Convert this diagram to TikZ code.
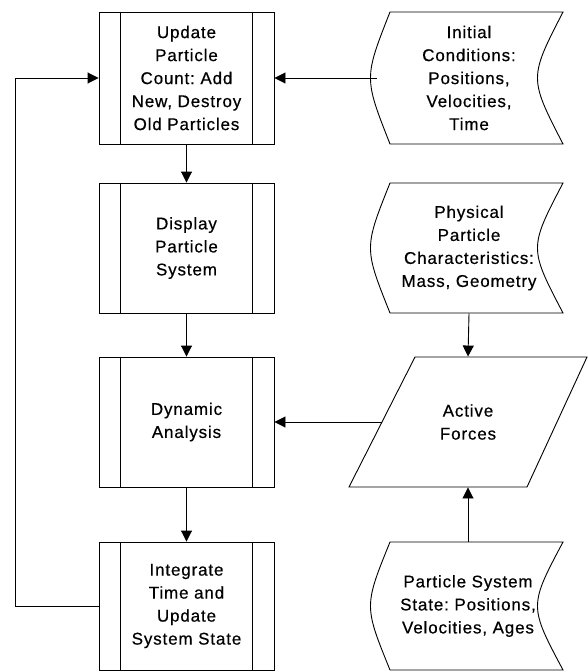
\documentclass[tikz,border=0pt]{standalone}
\usepackage{fontspec}
\setmainfont{Liberation Sans}[LetterSpace=5,FakeBold=0.5]
\usetikzlibrary{arrows.meta,calc}
\frenchspacing
\begin{document}
\begin{tikzpicture}[x=1pt,y=-1pt,
  line width=0.9pt,
  txt/.style={font=\fontsize{17}{23}\selectfont\frenchspacing, align=center, inner sep=0pt},
  procbox/.style={txt, draw, minimum width=175pt},
  datanode/.style={txt, minimum width=184pt},
  arr/.style={-{Triangle[length=11pt,width=11pt]}}]
\useasboundingbox (0,0) rectangle (588,672);
% predefined process boxes
\node[procbox, minimum height=132pt] (b1) at (186.5,78) {Update\\Particle\\Count: Add\\New, Destroy\\Old Particles};
\node[procbox, minimum height=130pt] (b2) at (186.5,248) {Display\\Particle\\System};
\node[procbox, minimum height=130pt] (b3) at (186.5,422) {Dynamic\\Analysis};
\node[procbox, minimum height=128pt] (b4) at (186.5,606) {Integrate\\Time and\\Update\\System State};
\foreach \n in {b1,b2,b3,b4}{
  \draw ($(\n.north west)+(22,0)$) -- ($(\n.south west)+(22,0)$);
  \draw ($(\n.north east)+(-22,0)$) -- ($(\n.south east)+(-22,0)$);
}
% stored data shapes
\node[datanode, minimum height=132pt] (ic) at (469,78) {Initial\\Conditions:\\Positions,\\Velocities,\\Time};
\node[datanode, minimum height=130pt] (pc) at (469,248) {Physical\\Particle\\Characteristics:\\Mass, Geometry};
\node[datanode, minimum height=128pt] (ps) at (468,606) {Particle System\\State: Positions,\\Velocities, Ages};
\draw[shift={(ic.center)}] (-79,-66) -- (94,-66) .. controls (60,0) .. (94,66) -- (-79,66) .. controls (-105,0) .. cycle;
\draw[shift={(pc.center)}] (-79,-65) -- (94,-65) .. controls (60,0) .. (94,65) -- (-79,65) .. controls (-105,0) .. cycle;
\draw[shift={(ps.center)}] (-78,-64) -- (95,-64) .. controls (61,0) .. (95,64) -- (-78,64) .. controls (-104,0) .. cycle;
% parallelogram
\node[txt, minimum width=172pt, minimum height=130pt] (af) at (468,422) {Active\\Forces};
\draw[shift={(af.center)}] (-53,-65) -- (119,-65) -- (59,65) -- (-119,65) -- cycle;
% connectors
\draw[arr] (ic.west) -- (b1.east);
\draw[arr] (b1.south) -- (b2.north);
\draw[arr] (b2.south) -- (b3.north);
\draw[arr] (b3.south) -- (b4.north);
\draw[arr] (pc.south) -- (af.north);
\draw[arr] (ps.north) -- (af.south);
\draw[arr] (af.west) -- (b3.east);
\draw[arr] (b4.west) -- ++(-83,0) |- (b1.west);
\end{tikzpicture}
\end{document}
